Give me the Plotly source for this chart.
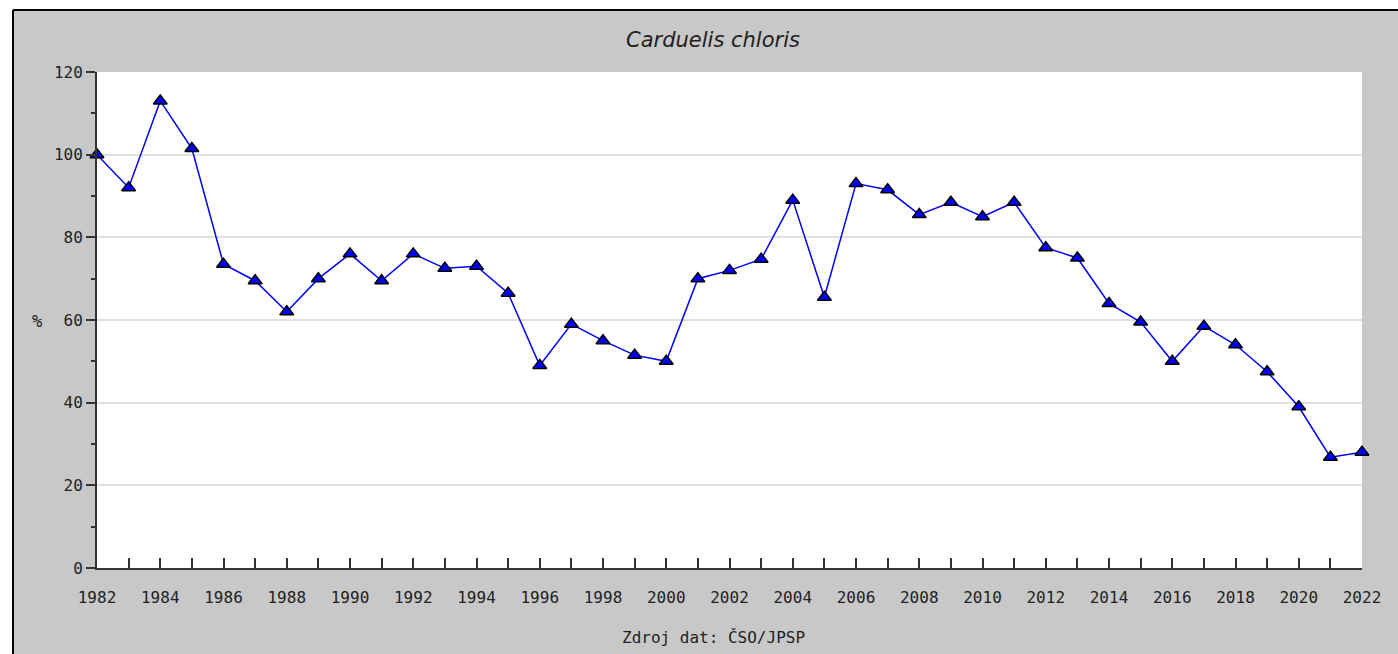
import plotly.graph_objects as go

# Daten (Index in %, 1982 = 100)
roky = list(range(1982, 2023))
hodnoty = [100, 92, 113, 101.5, 73.5, 69.5, 62, 70, 76, 69.5,
           76, 72.5, 73, 66.5, 49, 59, 55, 51.5, 50, 70,
           72, 74.7, 89, 65.5, 93, 91.5, 85.5, 88.5, 85, 88.5,
           77.5, 75, 64, 59.5, 50, 58.5, 54, 47.5, 39, 26.8, 28]

titulek = "Carduelis chloris"
zdroj = "Zdroj dat: ČSO/JPSP"

W, H = 1398, 654
L, R, T, B = 97, 36, 72, 86
pw, ph = W - L - R, H - T - B

def px(x):
    return (x - L) / pw

def py(y):
    return (H - B - y) / ph

mono = "DejaVu Sans Mono"
seda = "#c8c8c8"

fig = go.Figure()
fig.add_trace(go.Scatter(
    x=roky, y=hodnoty, mode="lines+markers",
    line=dict(color="#0000ff", width=1.5),
    marker=dict(symbol="triangle-up", size=12, color="#0000ff",
                line=dict(color="black", width=1.5)),
    cliponaxis=False, showlegend=False,
))

fig.update_layout(
    width=W, height=H,
    margin=dict(l=L, r=R, t=T, b=B),
    paper_bgcolor=seda, plot_bgcolor="white",
    font=dict(family=mono, size=16, color="#222"),
)

fig.update_xaxes(
    range=[1982, 2022], tick0=1982, dtick=2,
    ticks="inside", ticklen=10, tickcolor="#333", tickwidth=1.5,
    minor=dict(dtick=1, tick0=1982, ticks="inside", ticklen=10,
               tickcolor="#333", tickwidth=1.5, showgrid=False),
    showline=True, linecolor="#333", linewidth=2,
    showgrid=False, zeroline=False, ticklabelstandoff=14,
)
fig.update_yaxes(
    range=[0, 120], tick0=0, dtick=20,
    ticks="outside", ticklen=9, tickcolor="#333", tickwidth=1.5,
    minor=dict(dtick=10, ticks="outside", ticklen=4,
               tickcolor="#333", tickwidth=1.5, showgrid=False),
    showline=True, linecolor="#333", linewidth=2,
    showgrid=True, gridcolor="#e0e0e0", gridwidth=2, zeroline=False,
)

# bílý okraj a černý rámeček vlevo a nahoře
fig.add_shape(type="rect", xref="paper", yref="paper",
              x0=px(0), x1=px(13), y0=py(H), y1=py(0),
              fillcolor="white", line_width=0, layer="above")
fig.add_shape(type="rect", xref="paper", yref="paper",
              x0=px(0), x1=px(W), y0=py(10), y1=py(0),
              fillcolor="white", line_width=0, layer="above")
fig.add_shape(type="line", xref="paper", yref="paper",
              x0=px(13), x1=px(13), y0=py(H), y1=py(10),
              line=dict(color="black", width=2), layer="above")
fig.add_shape(type="line", xref="paper", yref="paper",
              x0=px(13), x1=px(W), y0=py(10), y1=py(10),
              line=dict(color="black", width=2), layer="above")

fig.add_annotation(text=titulek, xref="paper", yref="paper",
                   x=px(713), y=py(40), showarrow=False,
                   font=dict(family="DejaVu Sans", size=21, color="#222",
                             style="italic"),
                   xanchor="center", yanchor="middle")
fig.add_annotation(text="%", xref="paper", yref="paper",
                   x=px(37), y=py(321), showarrow=False,
                   font=dict(size=17),
                   xanchor="center", yanchor="middle")
fig.add_annotation(text=zdroj, xref="paper", yref="paper",
                   x=px(713), y=py(637), showarrow=False,
                   xanchor="center", yanchor="middle")

# ohne Seitenrand, damit die Grafik bei (0,0) beginnt
fig.write_html("out.html", config={"displayModeBar": False},
               post_script="document.body.style.margin='0';")
